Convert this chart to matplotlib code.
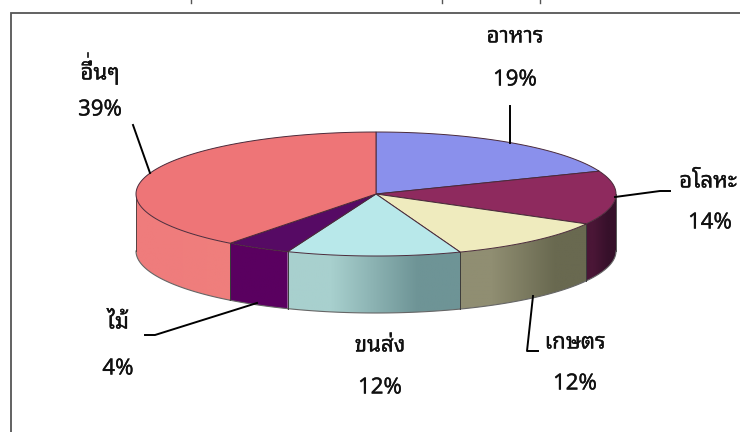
import numpy as np
import matplotlib
matplotlib.use("Agg")
import matplotlib.pyplot as plt
from matplotlib import patheffects
from matplotlib.colors import to_rgb
from matplotlib.patches import Polygon

categories = ["อาหาร", "อโลหะ", "เกษตร", "ขนส่ง", "ไม้", "อื่นๆ"]
shares = [19, 14, 11.3, 11.7, 4.4, 39.6]
share_labels = ["19%", "14%", "12%", "12%", "4%", "39%"]

top_colors = ["#8A90EC", "#8E2A5E", "#EFEBBE", "#B8E8EA", "#560A64", "#EE7577"]
wall_left = ["#7078C8", "#4A1636", "#908E72", "#A8D0CE", "#5A0060", "#EF7C7C"]
wall_right = ["#7078C8", "#36102A", "#696950", "#6E9496", "#5A0060", "#EF7E7C"]

name_pos = [(515, 37), (708, 182), (575, 343), (380, 346), (118, 323), (100, 72)]
pct_pos = [(515, 80), (710, 223), (575, 384), (380, 388), (118, 369), (100, 110)]
leaders = [
    [(510, 106), (510, 143)],
    [(615, 197), (660, 191), (670, 191)],
    [(533, 296), (527, 351), (538, 351)],
    [(257, 303), (155, 335), (145, 335)],
    None,
    [(133, 125), (150, 173)],
]

# pie position in pixels
cx, cy = 376, 194
rx, ry = 240, 62
depth = 57


def rim(angles):
    rad = np.radians(angles)
    return cx + rx * np.sin(rad), cy - ry * np.cos(rad)


fig = plt.figure(figsize=(7.4, 4.32), dpi=100)
ax = fig.add_axes([0, 0, 1, 1])
ax.axis("off")

# frame round the chart, open at the right and bottom
ax.plot([11, 11, 740], [432, 13, 13], color="#555555", lw=1.3, solid_joinstyle="miter")
# bits of the cut-off line above the frame
for x in [191, 442, 540]:
    ax.plot([x, x], [0, 3], color="#555555", lw=1)

edges = np.cumsum([0] + shares) / sum(shares) * 360

# side walls, only the part facing front
for i in range(len(shares)):
    start = max(edges[i], 90)
    end = min(edges[i + 1], 270)
    if end <= start:
        continue
    xs, ys = rim(np.linspace(start, end, 80))
    wall = Polygon(np.c_[np.r_[xs, xs[::-1]], np.r_[ys, ys[::-1] + depth]], closed=True,
                   transform=ax.transData, facecolor="none", edgecolor="none")
    ax.add_patch(wall)
    # gradient runs left to right in pixel space
    grad = np.array([[to_rgb(wall_left[i]), to_rgb(wall_right[i])]])
    im = ax.imshow(grad, extent=[xs.min(), xs.max(), ys.max() + depth, ys.min()],
                   aspect="auto", interpolation="bilinear", zorder=1)
    im.set_clip_path(wall)
    ax.plot(xs, ys + depth, color="#666666", lw=0.8, zorder=2)
    ax.plot([xs[0], xs[0]], [ys[0], ys[0] + depth], color="#3a3a3a", lw=0.6, zorder=2)
    ax.plot([xs[-1], xs[-1]], [ys[-1], ys[-1] + depth], color="#3a3a3a", lw=0.6, zorder=2)

# top face
for i in range(len(shares)):
    xs, ys = rim(np.linspace(edges[i], edges[i + 1], 120))
    ax.fill(np.r_[cx, xs], np.r_[cy, ys], facecolor=top_colors[i], edgecolor="#4a2a3a", lw=0.7, zorder=3)

for pts in leaders:
    if pts:
        ax.plot(*zip(*pts), color="black", lw=1.4, zorder=4)

heavier = [patheffects.withStroke(linewidth=0.2, foreground="#111111")]
for name, pct, np_, pp in zip(categories, share_labels, name_pos, pct_pos):
    ax.text(np_[0], np_[1], name, ha="center", va="center", fontsize=16,
            family="Noto Sans Thai Looped", color="#111111", path_effects=heavier)
    ax.text(pp[0], pp[1], pct, ha="center", va="center", fontsize=16,
            family="Noto Sans Thai Looped", color="#111111", path_effects=heavier)

# matplotlib stacks the tone mark on the vowel, so lift it with a small stroke
ax.plot([88, 88], [53, 57], color="#111111", lw=1.2)

ax.set_xlim(0, 740)
ax.set_ylim(432, 0)
fig.savefig("out.png", dpi=100)
